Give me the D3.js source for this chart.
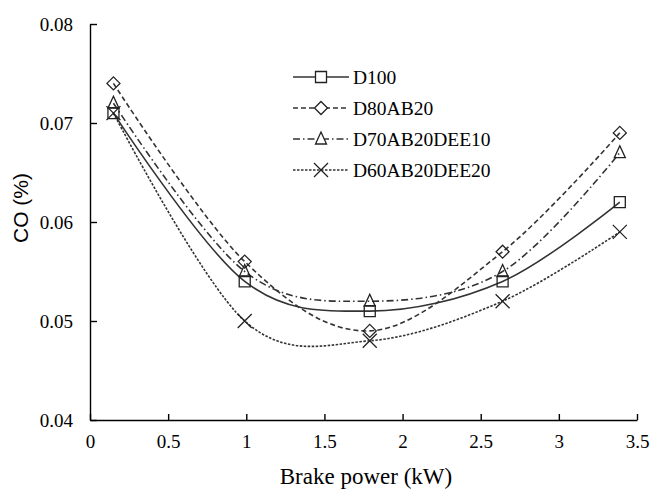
<!DOCTYPE html>
<html>
<head>
<meta charset="utf-8">
<script src="https://cdn.jsdelivr.net/npm/d3@7"></script>
<style>
  body { margin: 0; background: #fff; }
</style>
</head>
<body>
<svg width="652" height="492"></svg>
<script>
// brake power (kW) for the five load points
var brakePower = [0.15, 0.99, 1.79, 2.64, 3.39];

// CO (%) for each fuel blend
var coD100 = [0.071, 0.054, 0.051, 0.054, 0.062];
var coD80AB20 = [0.074, 0.056, 0.049, 0.057, 0.069];
var coD70AB20DEE10 = [0.072, 0.055, 0.052, 0.055, 0.067];
var coD60AB20DEE20 = [0.071, 0.050, 0.048, 0.052, 0.059];

var seriesNames = ["D100", "D80AB20", "D70AB20DEE10", "D60AB20DEE20"];
var xTicks = [0, 0.5, 1, 1.5, 2, 2.5, 3, 3.5];
var yTicks = [0.04, 0.05, 0.06, 0.07, 0.08];

var series = [
    { name: seriesNames[0], values: coD100, dash: null, marker: "square" },
    { name: seriesNames[1], values: coD80AB20, dash: "5,3", marker: "diamond" },
    { name: seriesNames[2], values: coD70AB20DEE10, dash: "7,3,1.5,3", marker: "triangle" },
    { name: seriesNames[3], values: coD60AB20DEE20, dash: "2.5,1.5", marker: "cross" }
];

var svg = d3.select("svg");

var x = d3.scaleLinear().domain([0, 3.5]).range([90, 637]);
var y = d3.scaleLinear().domain([0.04, 0.08]).range([420, 24]);

// axes - ticks point into the plot
var xAxis = svg.append("g")
    .attr("transform", "translate(0," + y(0.04) + ")")
    .call(d3.axisBottom(x).tickValues(xTicks).tickSizeInner(-6).tickSizeOuter(0)
        .tickFormat(function(d) { return d; }));
xAxis.selectAll("text").attr("y", 15).attr("dy", "0.71em");

var yAxis = svg.append("g")
    .attr("transform", "translate(" + x(0) + ",0)")
    .call(d3.axisLeft(y).tickValues(yTicks).tickSizeInner(-7).tickSizeOuter(0)
        .tickFormat(d3.format(".2f")));
yAxis.selectAll("text").attr("x", -17);

svg.selectAll(".domain, .tick line").attr("stroke", "#000").attr("stroke-width", 1.4);
// serif tick labels, set on each text so the axis group's sans-serif is not used
svg.selectAll(".tick text")
    .attr("fill", "#000")
    .attr("font-family", "Liberation Serif")
    .attr("font-size", 19);

svg.append("text")
    .attr("x", 366).attr("y", 484)
    .attr("text-anchor", "middle")
    .attr("font-family", "Liberation Serif")
    .attr("font-size", 23)
    .text("Brake power (kW)");

svg.append("text")
    .attr("transform", "translate(28,208) rotate(-90)")
    .attr("text-anchor", "middle")
    .attr("font-family", "Liberation Sans")
    .attr("font-size", 21)
    .text("CO (%)");

// marker shapes
function markerPath(type) {
    var p = d3.path();
    if (type == "square") {
        p.rect(-5.5, -5.5, 11, 11);
    } else if (type == "diamond") {
        p.moveTo(0, -6.5); p.lineTo(6.5, 0); p.lineTo(0, 6.5); p.lineTo(-6.5, 0); p.closePath();
    } else if (type == "triangle") {
        p.moveTo(0, -7); p.lineTo(5.5, 5); p.lineTo(-5.5, 5); p.closePath();
    } else {
        p.moveTo(-7, -7); p.lineTo(7, 7); p.moveTo(7, -7); p.lineTo(-7, 7);
    }
    return p.toString();
}

// smoothed lines, like the spreadsheet's smoothing
var line = d3.line()
    .x(function(d) { return x(d[0]); })
    .y(function(d) { return y(d[1]); })
    .curve(d3.curveCardinal.tension(0));

series.forEach(function(s) {
    var pts = brakePower.map(function(b, i) { return [b, s.values[i]]; });
    svg.append("path")
        .datum(pts)
        .attr("d", line)
        .attr("fill", "none")
        .attr("stroke", "#333")
        .attr("stroke-width", 1.6)
        .attr("stroke-dasharray", s.dash);
});

series.forEach(function(s) {
    var pts = brakePower.map(function(b, i) { return [b, s.values[i]]; });
    svg.append("g").selectAll("path")
        .data(pts)
        .enter().append("path")
        .attr("transform", function(d) { return "translate(" + x(d[0]) + "," + y(d[1]) + ")"; })
        .attr("d", markerPath(s.marker))
        .attr("fill", "none")
        .attr("stroke", "#222")
        .attr("stroke-width", 1.3);
});

// legend
var legend = svg.append("g").attr("transform", "translate(293,77)");
var rows = legend.selectAll("g")
    .data(series)
    .enter().append("g")
    .attr("transform", function(d, i) { return "translate(0," + i * 31 + ")"; });

rows.append("line")
    .attr("x1", 0).attr("x2", 56)
    .attr("stroke", "#333")
    .attr("stroke-width", 1.6)
    .attr("stroke-dasharray", function(d) { return d.dash; });

rows.append("path")
    .attr("transform", "translate(28,0)")
    .attr("d", function(d) { return markerPath(d.marker); })
    .attr("fill", "#fff")
    .attr("stroke", "#222")
    .attr("stroke-width", 1.3);

rows.append("text")
    .attr("x", 60)
    .attr("dy", "0.35em")
    .attr("font-family", "Liberation Serif")
    .attr("font-size", 19.5)
    .text(function(d) { return d.name; });
</script>
</body>
</html>
